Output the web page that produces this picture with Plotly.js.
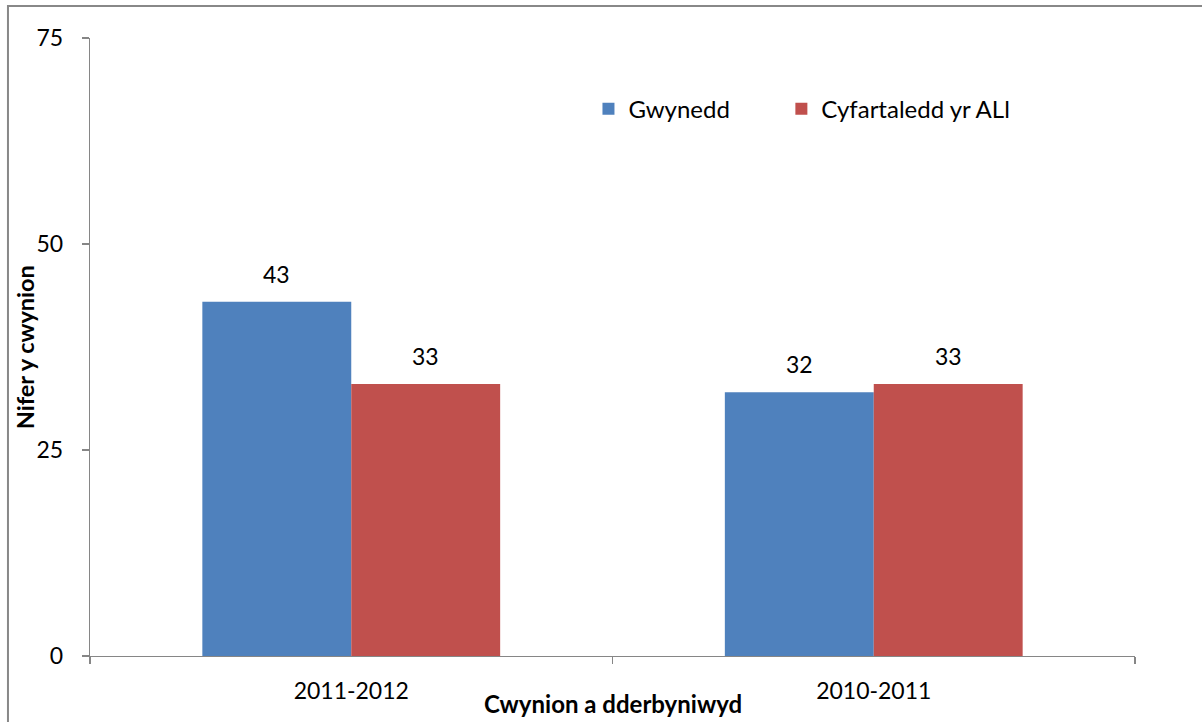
<!DOCTYPE html>
<html>
<head>
<meta charset="utf-8">
<script src="https://cdn.plot.ly/plotly-3.0.1.min.js"></script>
<style>html,body{margin:0;padding:0;background:#fff;}#chart{width:1202px;height:722px;}</style>
</head>
<body>
<div id="chart"></div>
<script>
const categories = ["2011-2012", "2010-2011"];
const seriesNames = ["Gwynedd", "Cyfartaledd yr ALl"];
const gwynedd = [43, 32];
const cyfartaledd = [33, 33];
const yTicks = [0, 25, 50, 75];
const yTitle = "Nifer y cwynion";
const xTitle = "Cwynion a dderbyniwyd";

const FONT = "Lato, 'Open Sans', sans-serif";
const colors = ["#4F81BD", "#C0504D"];
const axisColor = "#868686";
const legendIds = ["legend", "legend2"];

const traces = [gwynedd, cyfartaledd].map((vals, i) => ({
  type: "bar",
  name: seriesNames[i],
  x: categories,
  y: vals,
  legend: legendIds[i],
  marker: { color: colors[i], line: { width: 0 } },
  hoverinfo: "x+y+name"
}));

const annotations = [];
[gwynedd, cyfartaledd].forEach((vals, i) => {
  vals.forEach((v, j) => {
    annotations.push({
      xref: "x", yref: "y",
      x: categories[j], y: v,
      xshift: i === 0 ? -74.5 : 74.5,
      yshift: 12,
      yanchor: "bottom",
      text: String(v),
      showarrow: false,
      font: { family: FONT, size: 23, color: "#000" }
    });
  });
});

annotations.push({
  xref: "paper", yref: "paper",
  x: 0.5, xanchor: "center",
  y: -0.104, yanchor: "bottom",
  text: "<b>" + xTitle + "</b>",
  showarrow: false,
  font: { family: FONT, size: 24, color: "#000" }
});
annotations.push({
  xref: "paper", yref: "paper",
  x: -0.062, xanchor: "center",
  y: 0.5, yanchor: "middle",
  textangle: -90,
  text: "<b>" + yTitle + "</b>",
  showarrow: false,
  font: { family: FONT, size: 23.5, color: "#000" }
});

function legendAt(x) {
  return {
    orientation: "h",
    x: x, xanchor: "left",
    y: 0.885, yanchor: "middle",
    bgcolor: "rgba(0,0,0,0)",
    font: { family: FONT, size: 24, color: "#000" }
  };
}

const layout = {
  width: 1202, height: 722,
  margin: { l: 90, r: 67, t: 38, b: 66 },
  paper_bgcolor: "#fff", plot_bgcolor: "#fff",
  font: { family: FONT, size: 23, color: "#000" },
  barmode: "group",
  bargap: 0.43,
  bargroupgap: 0,
  showlegend: true,
  legend: legendAt(0.477),
  legend2: legendAt(0.6616),
  xaxis: {
    type: "category",
    automargin: false,
    showgrid: false,
    showline: true, linecolor: axisColor, linewidth: 1.3,
    ticks: "outside", tickson: "boundaries", ticklen: 7, tickcolor: axisColor, tickwidth: 1.3,
    ticklabelstandoff: 14,
    tickfont: { family: FONT, size: 23, color: "#000" },
    zeroline: false
  },
  yaxis: {
    automargin: false,
    range: [0, 75],
    tickvals: yTicks,
    ticktext: yTicks.map(String),
    showgrid: false,
    showline: true, linecolor: axisColor, linewidth: 1.3,
    ticks: "outside", ticklen: 7, tickcolor: axisColor, tickwidth: 1.3,
    ticklabelstandoff: 14,
    tickfont: { family: FONT, size: 23, color: "#000" },
    zeroline: false
  },
  annotations: annotations,
  shapes: [{
    type: "rect", xref: "paper", yref: "paper",
    x0: -0.0785, x1: 1.6, y0: -0.5, y1: 1.0518,
    line: { color: "#888888", width: 2 }, fillcolor: "rgba(0,0,0,0)", layer: "below"
  }]
};

Plotly.newPlot("chart", traces, layout, { displayModeBar: false, staticPlot: true });
</script>
</body>
</html>
